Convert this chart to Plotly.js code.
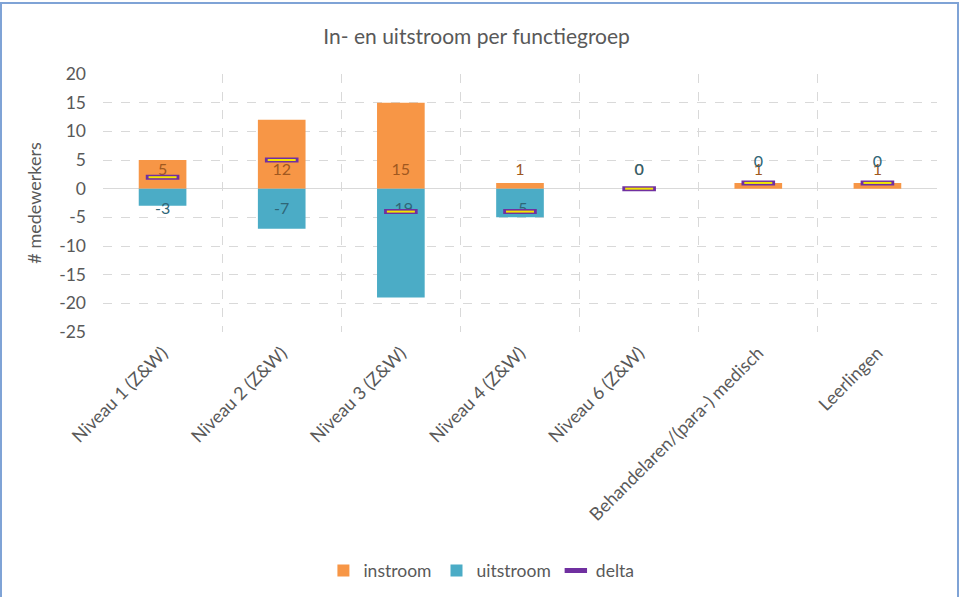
<!DOCTYPE html>
<html>
<head>
<meta charset="utf-8">
<script src="https://cdn.plot.ly/plotly-3.0.1.min.js"></script>
<style>
html,body{margin:0;padding:0;background:#fff;overflow:hidden;}
#wrap{position:relative;width:959px;height:597px;}
#chart{width:959px;height:597px;}
#frame{position:absolute;left:0;top:2px;width:955px;height:620px;border:2px solid #7FA3D6;pointer-events:none;}
</style>
</head>
<body>
<div id="wrap"><div id="chart"></div><div id="frame"></div></div>
<script>
const categories = ["Niveau 1 (Z&W)", "Niveau 2 (Z&W)", "Niveau 3 (Z&W)", "Niveau 4 (Z&W)", "Niveau 6 (Z&W)", "Behandelaren/(para-) medisch", "Leerlingen"];
const instroom = [5, 12, 15, 1, 0, 1, 1];
const uitstroom = [-3, -7, -19, -5, 0, 0, 0];
const delta = [2, 5, -4, -4, 0, 1, 1];
const yTickVals = [20, 15, 10, 5, 0, -5, -10, -15, -20, -25];

const FONT = "Lato, 'Open Sans', sans-serif";
const GRAY = "#595959";

// label positions derived from the data (Excel-like "inside base" placement)
const inLabelY = instroom.map(v => v >= 0 ? 3.1 : -3.7);
const outLabelY = uitstroom.map((v, i) => v < 0 ? -3.8 : (instroom[i] > 0 ? 4.4 : 3.1));

const traces = [
  {type: "bar", name: "instroom", x: categories, y: instroom,
   marker: {color: "#F79646"}, hoverinfo: "x+y"},
  {type: "bar", name: "uitstroom", x: categories, y: uitstroom,
   marker: {color: "#4BACC6"}, hoverinfo: "x+y"},
  {type: "scatter", mode: "text", x: categories, y: inLabelY,
   text: instroom.map(String), textfont: {family: FONT, size: 16, color: "#A0581F"},
   showlegend: false, hoverinfo: "skip"},
  {type: "scatter", mode: "text", x: categories, y: outLabelY,
   text: uitstroom.map(String), textfont: {family: FONT, size: 16, color: "#2F6677"},
   showlegend: false, hoverinfo: "skip"},
  {type: "scatter", mode: "markers", name: "delta", x: categories, y: delta,
   marker: {symbol: "line-ew", size: 24, color: "#7030A0", line: {color: "#7030A0", width: 5}}},
  {type: "scatter", mode: "markers", x: categories, y: delta, showlegend: false, hoverinfo: "skip",
   marker: {symbol: "line-ew", size: 20, color: "#FFFF00", line: {color: "#F2E600", width: 2}}}
];

const layout = {
  width: 959, height: 597,
  paper_bgcolor: "#ffffff", plot_bgcolor: "#ffffff",
  margin: {l: 103, r: 22, t: 74, b: 265},
  font: {family: FONT, color: GRAY, size: 16},
  title: {text: "In- en uitstroom per functiegroep", font: {family: FONT, size: 21, color: GRAY},
          x: 0.497, xref: "container", xanchor: "center", y: 0.938, yanchor: "middle"},
  barmode: "relative",
  bargap: 0.6,
  xaxis: {type: "category", tickson: "boundaries", showgrid: true, gridcolor: "#D9D9D9",
          griddash: "dash", gridwidth: 1, ticks: "", tickangle: -45, ticklabelstandoff: 6,
          tickfont: {family: FONT, size: 18, color: GRAY}, showline: false, zeroline: false,
          range: [-0.5, 6.5], automargin: false},
  yaxis: {range: [-25, 20], tickvals: yTickVals, ticktext: yTickVals.map(String),
          showgrid: true, gridcolor: "#D9D9D9", griddash: "dash", gridwidth: 1,
          zeroline: true, zerolinecolor: "#D9D9D9", zerolinewidth: 1.5, automargin: false,
          ticks: "", ticklen: 0, ticklabelstandoff: 16, tickfont: {family: FONT, size: 17.5, color: GRAY},
          title: {text: "# medewerkers", font: {family: FONT, size: 18, color: GRAY}, standoff: 12},
          showline: false},
  legend: {orientation: "h", xref: "container", yref: "container", x: 0.502, xanchor: "center",
           y: 0.044, yanchor: "middle",
           font: {family: FONT, size: 17.5, color: GRAY}, traceorder: "normal", itemwidth: 30},
  showlegend: true
};

Plotly.newPlot("chart", traces, layout, {displayModeBar: false, staticPlot: true});
</script>
</body>
</html>
